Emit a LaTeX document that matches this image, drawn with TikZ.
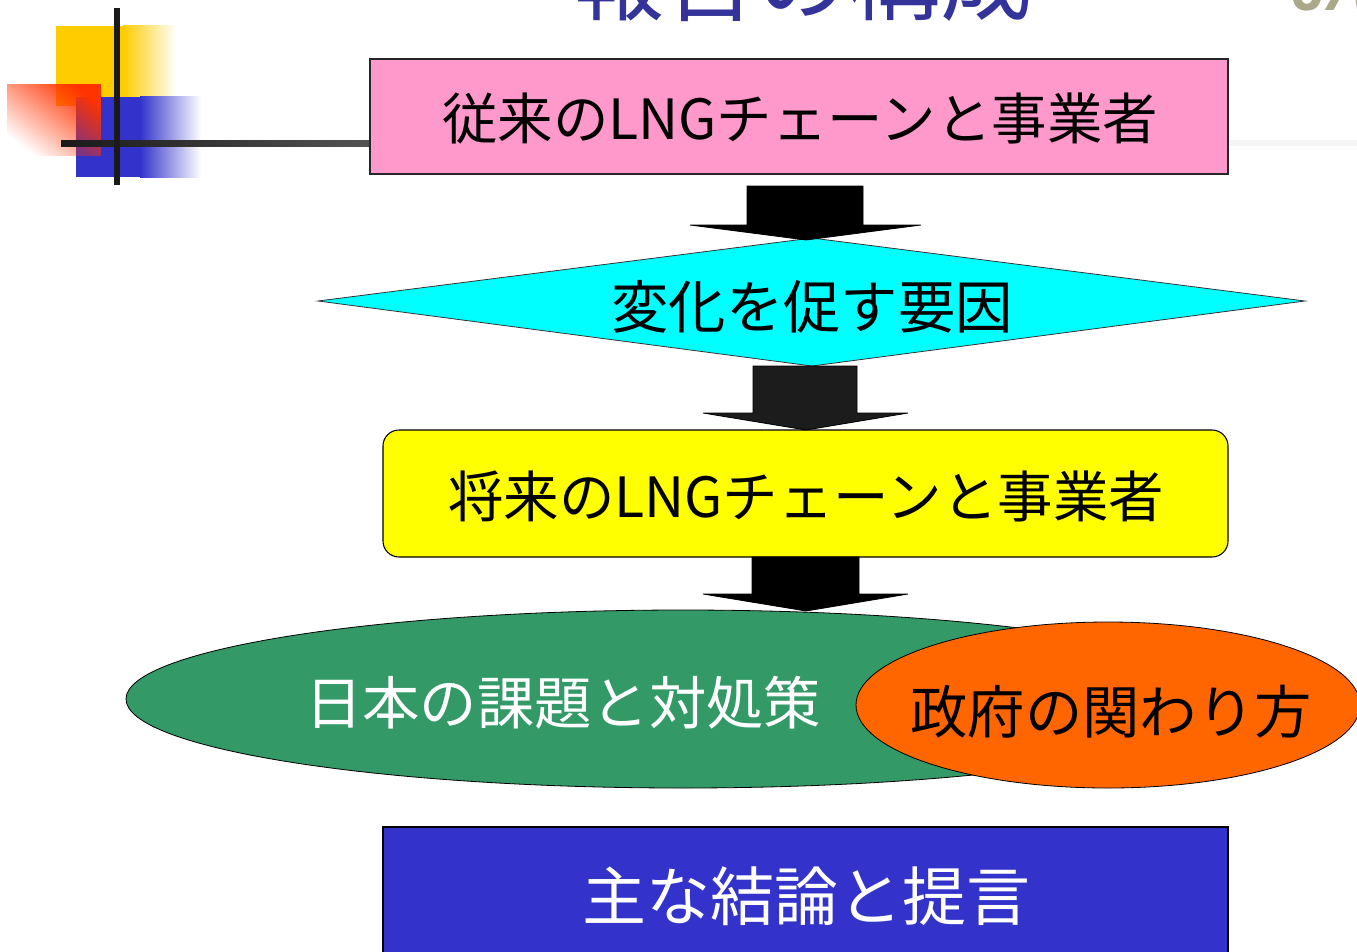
\documentclass[tikz,border=0pt]{standalone}
\usepackage{fontspec}
\setmainfont{Noto Sans CJK JP}
\newfontfamily\lsans{Liberation Sans}
\usetikzlibrary{fadings,shapes.geometric}
\definecolor{decoyellow}{HTML}{FFCC00}
\definecolor{decoblue}{HTML}{3333CC}
\definecolor{decored}{HTML}{FF3300}
\definecolor{pinkc}{HTML}{FF99CC}
\definecolor{cyanc}{HTML}{00FFFF}
\definecolor{yellowc}{HTML}{FFFF00}
\definecolor{greenc}{HTML}{339966}
\definecolor{orangec}{HTML}{FF6600}
\definecolor{bluec}{HTML}{3333CC}
\definecolor{titlec}{HTML}{333399}
\definecolor{jac}{HTML}{A9A98A}
\definecolor{linedark}{HTML}{1A1A1A}
\definecolor{linelight}{HTML}{F0F0F0}
\definecolor{linefaint}{HTML}{F5F5F5}
\definecolor{arrowgray}{HTML}{1C1C1C}
\tikzfading[name=diagfade, top color=transparent!0, bottom color=transparent!100]
\tikzset{
  boxtext/.style={inner sep=0pt, font=\fontsize{41.6}{48}\selectfont},
  bigtext/.style={inner sep=0pt, font=\fontsize{43}{50}\selectfont},
  blockarrow/.style={fill=black, draw=black, line width=0.6pt, line join=miter},
  frameline/.style={draw=black!85, line width=1.5pt},
}
\begin{document}
\begin{tikzpicture}[x=0.75pt,y=-0.75pt]
\useasboundingbox (0,0) rectangle (1357,951);
\clip (0,0) rectangle (1357,951);
\fill[white] (0,0) rectangle (1357,951);

% title (cut at top)
\node[anchor=base, inner sep=0pt, text=titlec, font=\fontsize{69}{80}\selectfont] (title) at (802,13) {報告の構成};
\node[anchor=base west, inner sep=0pt, text=jac, font=\lsans\bfseries\itshape\fontsize{46}{50}\selectfont] (ja) at (1292,10) {JA};

% decoration
\fill[decoyellow] (56,26) rectangle (123,106);
\shade[left color=decoyellow, right color=white] (123,25) rectangle (176,97);
\fill[decoblue] (76,97) rectangle (140,177);
\shade[left color=decoblue, right color=white] (140,96) rectangle (201,177);
\fill[decored, path fading=diagfade, fading angle=-45] (7,84) rectangle (101,156);
\shade[left color=linedark, right color=linelight] (61,140) rectangle (1228,146);
\fill[linefaint] (1228,140) rectangle (1357,146);
\fill[linedark] (114,8) rectangle (120,185);

% boxes
\node[frameline, fill=pinkc, minimum width=643.5pt, minimum height=86.25pt, inner sep=0pt] (box1) at (799,116.5) {};
\node[boxtext] (t1) at (800,118) {従来のLNGチェーンと事業者};

\fill[cyanc, draw=black!80, line width=0.6pt] (318,301) -- (812,238) -- (1305,301) -- (812,366) -- cycle;
\coordinate (dia) at (812,301);
\node[bigtext] (t2) at (812,307) {変化を促す要因};

\node[draw=black, line width=0.8pt, fill=yellowc, rounded corners=12pt, minimum width=633.75pt, minimum height=95.25pt, inner sep=0pt] (box3) at (805.5,493.5) {};
\node[boxtext] (t3) at (806,496) {将来のLNGチェーンと事業者};

\node[ellipse, draw=black, line width=0.6pt, fill=greenc, minimum width=835.5pt, minimum height=133.5pt, inner sep=0pt] (ell1) at (683,699) {};
\node[bigtext, text=white] (t4) at (563,703) {日本の課題と対処策};
\node[ellipse, draw=black, line width=0.6pt, fill=orangec, minimum width=378pt, minimum height=124.5pt, inner sep=0pt] (ell2) at (1108,705) {};
\node[bigtext] (t5) at (1111,712) {政府の関わり方};

\fill[bluec, draw=black, line width=0.8pt] (383,827) rectangle (1228,965);
\coordinate (box5) at (806,890);
\node[inner sep=0pt, text=white, font=\fontsize{48}{56}\selectfont] (t6) at (806,896) {主な結論と提言};

% block arrows
\path[blockarrow] (747,186) -- (863,186) -- (863,225) -- (921,225) -- (806,240) -- (690,225) -- (747,225) -- cycle;
\path[blockarrow, fill=arrowgray] (753,366) -- (857,366) -- (857,413) -- (908,413) -- (806,430) -- (703,413) -- (753,413) -- cycle;
\path[blockarrow] (752,557) -- (859,557) -- (859,594) -- (908,594) -- (806,611) -- (703,594) -- (752,594) -- cycle;
\end{tikzpicture}
\end{document}
